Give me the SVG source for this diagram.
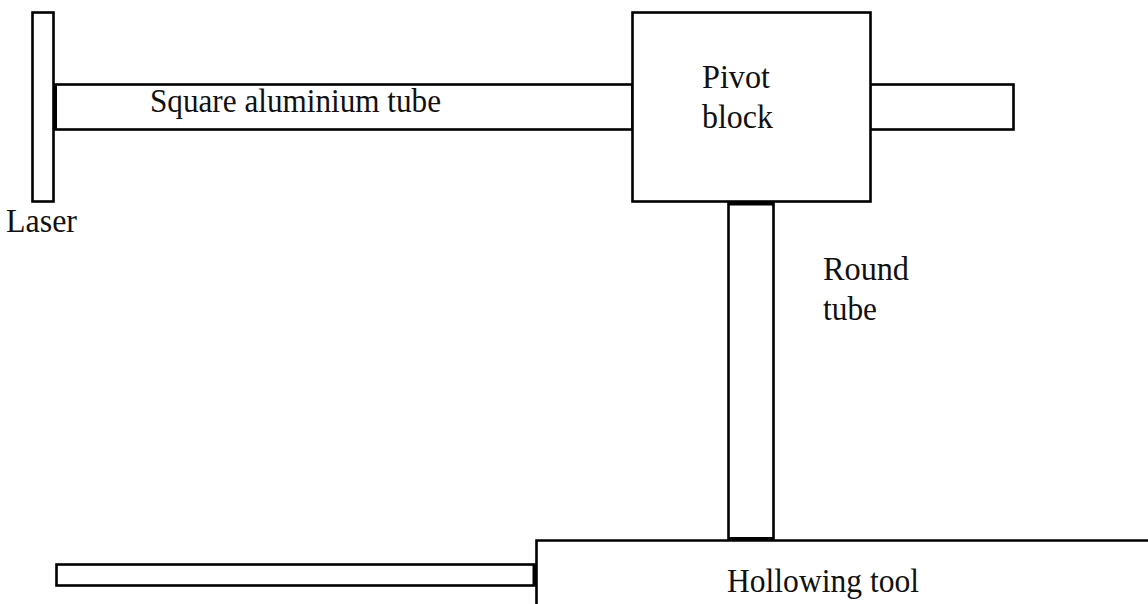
<svg xmlns="http://www.w3.org/2000/svg" width="1148" height="604" viewBox="0 0 1148 604">
<style>
.s{fill:#fff;stroke:#000;stroke-width:2.6}
.j{fill:none;stroke:#000;stroke-width:4}
text{font-family:"Liberation Serif","Times New Roman",serif;font-size:33px;fill:#111}
</style>
<rect width="1148" height="604" fill="#fff"/>
<g id="square-tube"><rect class="s" x="54.500" y="84.500" width="578" height="45"/><text x="150" y="112" textLength="291" lengthAdjust="spacingAndGlyphs">Square aluminium tube</text></g>
<g id="tube-end"><rect class="s" x="870" y="84.500" width="143.500" height="45"/></g>
<g id="laser"><rect class="s" x="32.500" y="12.500" width="21" height="189"/><text x="6" y="232" textLength="71" lengthAdjust="spacingAndGlyphs">Laser</text></g>
<g id="pivot-block"><rect class="s" x="632.500" y="12.500" width="238" height="189"/><text x="702" y="88" textLength="68" lengthAdjust="spacingAndGlyphs">Pivot</text><text x="702" y="128" textLength="71" lengthAdjust="spacingAndGlyphs">block</text></g>
<g id="round-tube"><rect class="s" x="728.500" y="203.500" width="45" height="335"/></g>
<text id="round-label" x="823" y="280" textLength="86" lengthAdjust="spacingAndGlyphs">Round</text>
<text id="tube-label" x="823" y="320" textLength="54" lengthAdjust="spacingAndGlyphs">tube</text>
<g id="hollowing-tool"><path class="s" d="M1148 540.500H536.500V604"/><text x="727" y="592" textLength="192" lengthAdjust="spacingAndGlyphs">Hollowing tool</text></g>
<g id="handle"><rect class="s" x="56.500" y="564.500" width="478" height="21"/></g>
<g id="connectors">
<path class="j" d="M55 85V129M729 203.500H773M729 539H773M534.500 565V585"/>
</g>
</svg>
